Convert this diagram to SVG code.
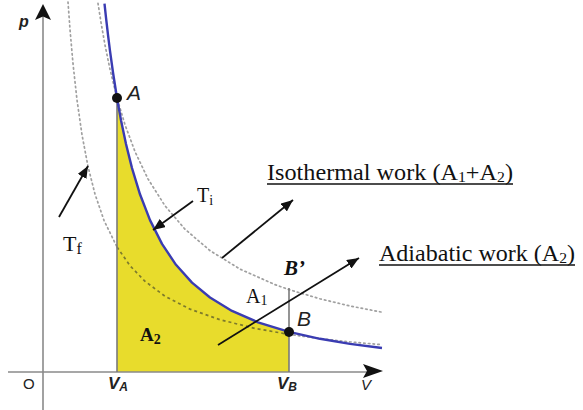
<svg xmlns="http://www.w3.org/2000/svg" width="583" height="410" viewBox="0 0 583 410">
<defs>
<style>
.axis{stroke:#8a8a8a;stroke-width:1.6;fill:none}
.vline{stroke:#7a7a7a;stroke-width:1.6;fill:none}
.adiabat{stroke:#3a3cb2;stroke-width:2.4;fill:none;stroke-linejoin:round}
.iso{stroke:#a0a0a0;stroke-width:1.7;fill:none;stroke-dasharray:1.5 3.2;stroke-linecap:round}
.isoin{stroke:#7d7a2c;stroke-width:1.7;fill:none;stroke-dasharray:3 3}
.arrow{stroke:#111;stroke-width:1.8;fill:none;marker-end:url(#ah)}
.dot{fill:#111}
.serif{font-family:"Liberation Serif","Times New Roman",serif;fill:#111}
.sans{font-family:"Liberation Sans",Arial,sans-serif;fill:#222}
.ul{stroke:#111;stroke-width:1.5}
</style>
<marker id="ah" markerUnits="userSpaceOnUse" markerWidth="12" markerHeight="10" viewBox="0 0 12 10" refX="12" refY="5" orient="auto">
<path d="M0,0 L12,5 L0,10 Z" fill="#111"/>
</marker>
</defs>
<rect width="583" height="410" fill="#fff"/>

<g id="area-A2">
<path d="M117,372 L117,98 L121,120.2 L126,144 L132,168.1 L140,194.3 L150,220.1 L162,243.9 L176,264.8 L192,282.6 L210,297.5 L232,310.9 L258,322.3 L289,331.9 L289,372 Z" fill="#e8dc2c"/>
</g>

<g id="axes">
<line class="axis" x1="43" y1="16" x2="43" y2="410"/>
<path d="M43,4 L51,20 L43,16.5 L35,20 Z" fill="#111"/>
<line class="axis" x1="8" y1="372" x2="370" y2="372"/>
<path d="M383,371 L363,364 L367,371 L363,378 Z" fill="#111"/>
</g>

<g id="isotherm-Tf">
<path class="iso" d="M68,2 L70,29.4 L73,63.7 L77,99.9 L82,134.8 L88,166.4 L95,194.1 L104,220.4 L117,247"/>
<path class="isoin" d="M117,247 L130,265.7 L145,281.3 L165,296.2 L190,309.1 L220,319.7 L255,328.4 L289,334.4"/>
<path class="iso" d="M289,334.4 L320,338.6 L350,341.9 L382,344.7"/>
</g>

<g id="isotherm-Ti">
<path class="iso" d="M98,3.3 L101,22.4 L105,45 L110,69.4 L117,98 L125,124.7 L135,151.6 L148,178.9 L165,205.8 L185,229.2 L210,250.6 L240,269.1 L275,284.6 L289,289.6 L320,298.8 L350,306 L382,312.2"/>
</g>

<g id="vlines">
<line class="vline" x1="117" y1="98" x2="117" y2="372"/>
<line class="vline" x1="289" y1="288" x2="289" y2="372"/>
</g>

<g id="adiabat">
<path class="adiabat" d="M104.5,3.6 L106,17.6 L108,34.8 L110,50.8 L113,72.5 L117,98 L121,120.2 L126,144 L132,168.1 L140,194.3 L150,220.1 L162,243.9 L176,264.8 L192,282.6 L210,297.5 L232,310.9 L258,322.3 L289,331.9 L320,338.8 L350,343.9 L382,348"/>
</g>

<g id="connectors">
<line class="arrow" x1="59" y1="217" x2="88" y2="166"/>
<line class="arrow" x1="193" y1="201" x2="153" y2="230"/>
<line class="arrow" x1="222" y1="258" x2="293" y2="200"/>
<line class="arrow" x1="218" y1="345" x2="359" y2="258"/>
</g>

<g id="point-A">
<circle class="dot" cx="117" cy="98" r="5"/>
<text class="sans" x="127" y="100" font-size="21" font-style="italic">A</text>
</g>
<g id="point-B">
<circle class="dot" cx="289" cy="332" r="5"/>
<text class="sans" x="297" y="326" font-size="21" font-style="italic">B</text>
</g>
<g id="point-Bp">
<text class="serif" x="284" y="275" font-size="21" font-style="italic" font-weight="bold">B’</text>
</g>

<g id="labels">
<text class="sans" x="19" y="27" font-size="16" font-style="italic" font-weight="bold" fill="#333">p</text>
<text class="sans" x="23" y="389" font-size="15">O</text>
<text class="sans" x="108" y="389" font-size="17" font-style="italic" font-weight="bold">V<tspan font-size="12" dy="2">A</tspan></text>
<text class="sans" x="277" y="389" font-size="17" font-style="italic" font-weight="bold">V<tspan font-size="12" dy="2">B</tspan></text>
<text class="sans" x="361" y="390" font-size="15" font-style="italic" fill="#444">V</text>
<text class="serif" x="197" y="202" font-size="20">T<tspan font-size="14" dy="3">i</tspan></text>
<text class="serif" x="63" y="251" font-size="22">T<tspan font-size="16" dy="3">f</tspan></text>
<text class="serif" x="246" y="303" font-size="20">A<tspan font-size="14" dy="2">1</tspan></text>
<text class="serif" x="140" y="341" font-size="19" font-weight="bold">A<tspan font-size="14" dy="3">2</tspan></text>
</g>

<g id="label-isothermal">
<text class="serif" x="267" y="180" font-size="23" textLength="246" lengthAdjust="spacingAndGlyphs">Isothermal work (A<tspan font-size="15" dy="2">1</tspan><tspan dy="-2">+A</tspan><tspan font-size="15" dy="2">2</tspan><tspan dy="-2">)</tspan></text>
<line class="ul" x1="267" y1="184" x2="513" y2="184"/>
</g>
<g id="label-adiabatic">
<text class="serif" x="379" y="261" font-size="23" textLength="196" lengthAdjust="spacingAndGlyphs">Adiabatic work (A<tspan font-size="15" dy="2">2</tspan><tspan dy="-2">)</tspan></text>
<line class="ul" x1="379" y1="265" x2="575" y2="265"/>
</g>
</svg>
